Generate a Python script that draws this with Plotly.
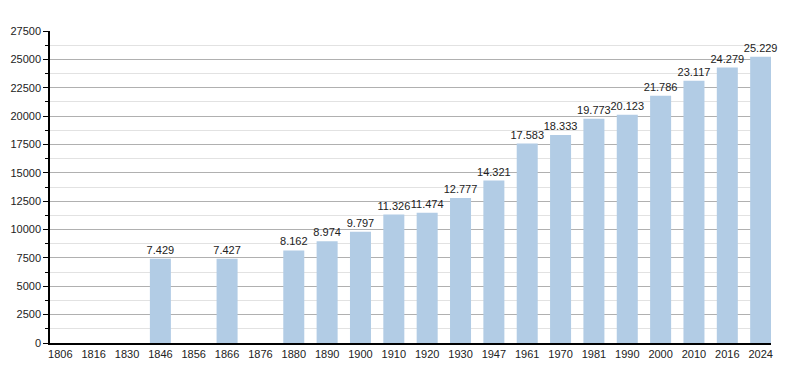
import plotly.graph_objects as go

years = ["1806", "1816", "1830", "1846", "1856", "1866", "1876", "1880", "1890", "1900",
         "1910", "1920", "1930", "1947", "1961", "1970", "1981", "1990", "2000", "2010",
         "2016", "2024"]
population = [None, None, None, 7429, None, 7427, None, 8162, 8974, 9797,
              11326, 11474, 12777, 14321, 17583, 18333, 19773, 20123, 21786, 23117,
              24279, 25229]

labels = [("" if v is None else f"{v:,}".replace(",", ".")) for v in population]

fig = go.Figure(go.Bar(
    x=years, y=population, text=labels, textposition="outside",
    constraintext="none",
    textfont=dict(family="Liberation Sans, Arial, sans-serif", size=11, color="#222"),
    marker=dict(color="#b2cce5", line=dict(width=0)),
    width=0.63, cliponaxis=False,
))

fig.update_layout(
    width=792, height=365,
    margin=dict(l=42, r=29, t=23, b=30, autoexpand=False),
    plot_bgcolor="white", paper_bgcolor="white",
    font=dict(family="Liberation Sans, Arial, sans-serif", size=11, color="#222"),
    showlegend=False,
    xaxis=dict(type="category", range=[-0.31, 21.31], showline=True, linecolor="black",
               linewidth=1.5, ticks="", showgrid=False, tickfont=dict(size=11)),
    yaxis=dict(range=[0, 27500], dtick=2500, tick0=0, tickformat="d",
               showline=True, linecolor="black", linewidth=1.5,
               ticks="outside", ticklen=5, tickcolor="black",
               showgrid=True, gridcolor="#b0b0b0", gridwidth=1, zeroline=False,
               minor=dict(dtick=1250, showgrid=True, gridcolor="#e2e2e2",
                          ticks="outside", ticklen=3, tickcolor="black")),
)

fig.write_html("out.html")
